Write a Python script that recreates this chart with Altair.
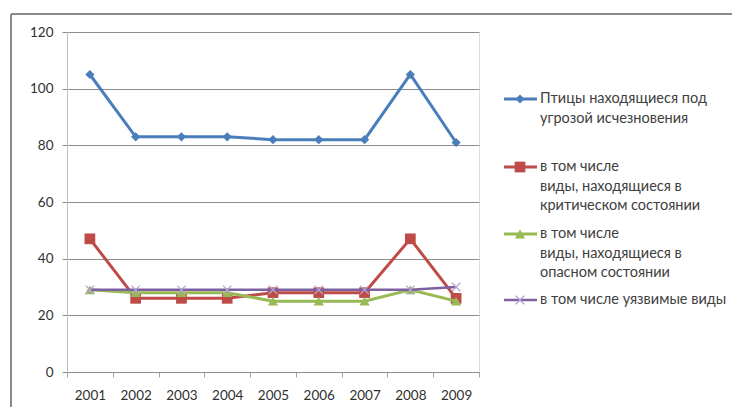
import altair as alt
import pandas as pd

years = ["2001", "2002", "2003", "2004", "2005", "2006", "2007", "2008", "2009"]
series_names = [
    "Птицы находящиеся под угрозой исчезновения",
    "в том числе виды, находящиеся в критическом состоянии",
    "в том числе виды, находящиеся в опасном состоянии",
    "в том числе уязвимые виды",
]
legend_lines = [
    ["Птицы находящиеся под", "угрозой исчезновения"],
    ["в том числе", "виды, находящиеся в", "критическом состоянии"],
    ["в том числе", "виды, находящиеся в", "опасном состоянии"],
    ["в том числе уязвимые виды"],
]
endangered = [105, 83, 83, 83, 82, 82, 82, 105, 81]
critical = [47, 26, 26, 26, 28, 28, 28, 47, 26]
danger = [29, 28, 28, 28, 25, 25, 25, 29, 25]
vulnerable = [29, 29, 29, 29, 29, 29, 29, 29, 30]
y_ticks = [0, 20, 40, 60, 80, 100, 120]

values = [endangered, critical, danger, vulnerable]
colors = ["#4a7ebb", "#be4b48", "#98b954", "#7d60a0"]
marker_colors = ["#4a7ebb", "#be4b48", "#98b954", "#b3a6cf"]
shapes = ["diamond", "square", "triangle-up", "M-1,-1L1,1M-1,1L1,-1"]
sizes = [85, 115, 105, 70]
filled = [True, True, True, False]

FONT = "Lato"
W, H = 412, 340

x_enc = alt.X(
    "year:N",
    sort=years,
    bandPosition=0.5,
    scale=alt.Scale(type="band", domain=years, paddingInner=0, paddingOuter=0),
    axis=alt.Axis(
        title=None, tickBand="extent", grid=False, labelAngle=0,
        labelFont=FONT, labelFontSize=13.5, labelColor="#303030",
        labelPadding=11, tickSize=5, tickColor="#a6a6a6",
        domainColor="#8c8c8c", domainWidth=1.2,
    ),
)
y_enc = alt.Y(
    "value:Q",
    scale=alt.Scale(domain=[0, 120], nice=False, zero=True),
    axis=alt.Axis(
        title=None, values=y_ticks, grid=True, gridColor="#8c8c8c",
        labelFont=FONT, labelFontSize=13.5, labelColor="#303030",
        labelPadding=9, tickSize=5, tickColor="#8c8c8c",
        domainColor="#bfbfbf",
    ),
)

layers = []

# outer frame
frame_df = pd.DataFrame({"a": [0]})
layers.append(
    alt.Chart(frame_df).mark_rule(color="#8a8a8a", strokeWidth=2).encode(
        x=alt.value(-56), x2=alt.value(680), y=alt.value(-18)
    )
)
layers.append(
    alt.Chart(frame_df).mark_rule(color="#8a8a8a", strokeWidth=2).encode(
        x=alt.value(-56), y=alt.value(-18), y2=alt.value(390)
    )
)

for i, name in enumerate(series_names):
    df = pd.DataFrame({"year": years, "value": values[i]})
    base = alt.Chart(df)
    layers.append(
        base.mark_line(color=colors[i], strokeWidth=3 if i < 3 else 2.5).encode(x=x_enc, y=y_enc)
    )
    pt = dict(shape=shapes[i], size=sizes[i], opacity=1)
    if filled[i]:
        pt.update(filled=True, color=marker_colors[i])
    else:
        pt.update(filled=False, stroke=marker_colors[i], strokeWidth=1.3)
    layers.append(base.mark_point(**pt).encode(x=x_enc, y=y_enc))

# legend (drawn manually)
leg_first_y = [67, 135, 202, 268]
line_h = 19.5
sym_x0, sym_x1, sym_xc, txt_x = 437, 470, 453, 473
for i, lines in enumerate(legend_lines):
    y0 = leg_first_y[i]
    one = pd.DataFrame({"a": [0]})
    layers.append(
        alt.Chart(one).mark_rule(color=colors[i], strokeWidth=3 if i < 3 else 2.5).encode(
            x=alt.value(sym_x0), x2=alt.value(sym_x1), y=alt.value(y0)
        )
    )
    pt = dict(shape=shapes[i], size=sizes[i], opacity=1)
    if filled[i]:
        pt.update(filled=True, color=marker_colors[i])
    else:
        pt.update(filled=False, stroke=marker_colors[i], strokeWidth=1.3)
    layers.append(
        alt.Chart(one).mark_point(**pt).encode(x=alt.value(sym_xc), y=alt.value(y0))
    )
    for j, t in enumerate(lines):
        layers.append(
            alt.Chart(one).mark_text(
                text=t, align="left", baseline="middle", font=FONT, fontSize=14.5,
                color="#404040",
            ).encode(x=alt.value(txt_x), y=alt.value(y0 + j * line_h))
        )

chart = alt.layer(*layers).properties(
    width=W, height=H,
    autosize=alt.AutoSizeParams(type="none"),
    padding={"left": 59, "top": 24, "right": 253, "bottom": 35},
).configure_view(stroke=None).configure(background="white")

chart.save("out.html", embed_options={"renderer": "svg", "actions": False})
